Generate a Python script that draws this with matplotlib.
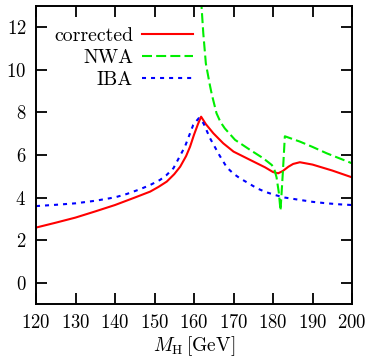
import matplotlib
matplotlib.use("Agg")
import matplotlib.pyplot as plt

plt.rcParams['font.family'] = 'serif'
plt.rcParams['font.serif'] = ['cmr10', 'DejaVu Serif']
plt.rcParams['mathtext.fontset'] = 'cm'
plt.rcParams['axes.formatter.use_mathtext'] = True
plt.rcParams['lines.scale_dashes'] = False

# corrected
mh_corr = [120, 125, 130, 135, 140, 145, 148.9, 151, 153.1, 155, 156.5, 158, 159, 160, 161, 161.8,
           163, 164.9, 167.4, 170, 174.2, 178, 180, 181.3, 182.5, 183.9, 185.1,
           186.8, 190, 195, 200]
corr = [2.59, 2.82, 3.06, 3.35, 3.65, 4.0, 4.28, 4.5, 4.75, 5.1, 5.45, 5.95, 6.39, 6.95, 7.45, 7.8,
        7.45, 7.02, 6.55, 6.16, 5.77, 5.42, 5.2, 5.14, 5.25, 5.45, 5.58,
        5.66, 5.55, 5.27, 4.95]

# NWA
mh_nwa = [161.6, 161.9, 162.35, 163.0, 164.0, 164.5, 165.7, 166.7, 167.8, 170.4, 174.2, 177.5,
          179.7, 180.3, 180.9, 181.5, 181.9, 182.5, 183.0, 186.8, 190, 193.6, 200]
nwa = [16, 13, 11.72, 10.3, 9.3, 8.85, 7.96, 7.55, 7.25, 6.71, 6.24, 5.85,
       5.53, 5.35, 4.95, 4.2, 3.39, 5.2, 6.88, 6.63, 6.38, 6.08, 5.61]

# IBA
mh_iba = [120, 125, 130, 135, 140, 143, 146.3, 148.9, 151.4, 153, 154.8, 156, 157.7, 159.8, 161.2,
          162.4, 164.05, 166.4, 168.3, 170, 171.6, 174, 175.9, 178, 180.5, 183, 186.8, 190,
          193.6, 197, 200]
iba = [3.6, 3.66, 3.73, 3.85, 4.01, 4.17, 4.39, 4.59, 4.83, 5.05, 5.38, 5.8, 6.39, 7.41, 7.73,
       7.49, 6.79, 6.0, 5.42, 5.12, 4.91, 4.65, 4.44, 4.27, 4.12, 4.0, 3.89, 3.8,
       3.73, 3.68, 3.65]

xticks = [120, 130, 140, 150, 160, 170, 180, 190, 200]
yticks = [0, 2, 4, 6, 8, 10, 12]

fig = plt.figure(figsize=(3.67, 3.60), dpi=100)
ax = fig.add_axes([36/367, 1-304/360, (352-36)/367, (304-6)/360])

ax.plot(mh_corr, corr, color='#ff0000', lw=1.5, label='corrected')
ax.plot(mh_nwa, nwa, color='#00ee00', lw=1.5, dashes=[7.2, 3.0], label='NWA')
ax.plot(mh_iba, iba, color='#0000ff', lw=1.5, dashes=[2.9, 3.6], label='IBA')

ax.set_xlim(120, 200)
ax.set_ylim(-1, 13)
ax.set_xticks(xticks)
ax.set_yticks(yticks)
ax.tick_params(direction='in', length=8, width=1.3, top=True, right=True, labelsize=13.5, pad=7)
for s in ax.spines.values():
    s.set_linewidth(1.4)

ax.set_xlabel(r'$M_{\rm H}\,[{\rm GeV}]$', fontsize=14, labelpad=2)

ax.legend(loc='upper right', frameon=False, markerfirst=False, fontsize=14.3,
          handlelength=2.57, handletextpad=0.45, labelspacing=0.2,
          borderaxespad=0.0, borderpad=0.0, bbox_to_anchor=(0.497, 0.93))

fig.savefig('out.png', dpi=100)
